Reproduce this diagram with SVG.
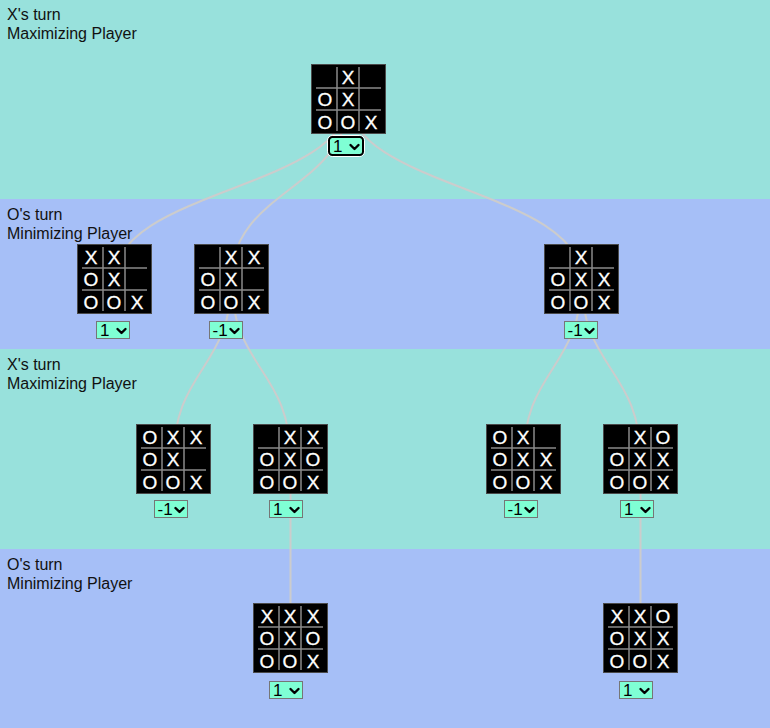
<svg xmlns="http://www.w3.org/2000/svg" xmlns:xlink="http://www.w3.org/1999/xlink" width="770" height="728" viewBox="0 0 770 728">
<style>
.bandA{fill:#98e1dc}
.bandB{fill:#a6bff7}
.lbl{font-family:"Liberation Sans",Arial,sans-serif;font-size:16px;fill:#111}
.board{fill:#000;stroke:#4a4a4a;stroke-width:1}
.grid{stroke:#8a8a8a;stroke-width:1.5}
.mark{font-family:"Liberation Sans",Arial,sans-serif;font-size:19px;fill:#fff;stroke:#fff;stroke-width:0.3;text-anchor:middle}
.sel{fill:#7fffd4;stroke:#767676;stroke-width:1}
.self{fill:#7fffd4;stroke:#000;stroke-width:2}
.ring{fill:none;stroke:#fff;stroke-width:1}
.val{font-family:"Liberation Sans",Arial,sans-serif;font-size:17px;fill:#000}
.chev{fill:none;stroke:#000;stroke-width:2.4;stroke-linecap:round;stroke-linejoin:round}
.link{fill:none;stroke:#cccccc;stroke-width:2}
</style>
<defs>
<g id="boardbase">
<rect class="board" x="0.5" y="0.5" width="74" height="69"/>
<line class="grid" x1="26" y1="3" x2="26" y2="67"/>
<line class="grid" x1="48" y1="3" x2="48" y2="67"/>
<line class="grid" x1="5" y1="24" x2="70" y2="24"/>
<line class="grid" x1="5" y1="46" x2="70" y2="46"/>
</g>
<path id="chevron" class="chev" d="M21.5,8 L25.5,12 L29.5,8"/>
</defs>

<g id="bands">
<rect class="bandA" x="0" y="0" width="770" height="199"/>
<rect class="bandB" x="0" y="199" width="770" height="150"/>
<rect class="bandA" x="0" y="349" width="770" height="200"/>
<rect class="bandB" x="0" y="549" width="770" height="179"/>
<text class="lbl" x="7" y="20">X's turn</text>
<text class="lbl" x="7" y="38.5">Maximizing Player</text>
<text class="lbl" x="7" y="220">O's turn</text>
<text class="lbl" x="7" y="238.5">Minimizing Player</text>
<text class="lbl" x="7" y="370">X's turn</text>
<text class="lbl" x="7" y="388.5">Maximizing Player</text>
<text class="lbl" x="7" y="570">O's turn</text>
<text class="lbl" x="7" y="588.5">Minimizing Player</text>
</g>

<g id="connectors">
<path class="link" d="M348.5,99 C348.5,189 114.5,189 114.5,279"/>
<path class="link" d="M348.5,99 C348.5,189 231.5,189 231.5,279"/>
<path class="link" d="M348.5,99 C348.5,189 581.5,189 581.5,279"/>
<path class="link" d="M231.5,279 C231.5,369 173.5,369 173.5,459"/>
<path class="link" d="M231.5,279 C231.5,369 290.5,369 290.5,459"/>
<path class="link" d="M581.5,279 C581.5,369 523.5,369 523.5,459"/>
<path class="link" d="M581.5,279 C581.5,369 640.5,369 640.5,459"/>
<path class="link" d="M290.5,459 L290.5,637"/>
<path class="link" d="M640.5,459 L640.5,637"/>
</g>

<g id="n0" transform="translate(311,64)">
<use xlink:href="#boardbase"/>
<text class="mark" x="37" y="19.5">X</text>
<text class="mark" x="14" y="42">O</text><text class="mark" x="37" y="42">X</text>
<text class="mark" x="14" y="64.5">O</text><text class="mark" x="37" y="64.5">O</text><text class="mark" x="60" y="64.5">X</text>
<g transform="translate(18,72)">
<rect class="ring" x="-1.5" y="-0.5" width="37" height="21" rx="5"/>
<rect class="self" x="0" y="1" width="34" height="18" rx="3.5"/>
<text class="val" x="4" y="16">1</text>
<use xlink:href="#chevron" y="1"/>
</g>
</g>

<g id="n1" transform="translate(77,244)">
<use xlink:href="#boardbase"/>
<text class="mark" x="14" y="19.5">X</text><text class="mark" x="37" y="19.5">X</text>
<text class="mark" x="14" y="42">O</text><text class="mark" x="37" y="42">X</text>
<text class="mark" x="14" y="64.5">O</text><text class="mark" x="37" y="64.5">O</text><text class="mark" x="60" y="64.5">X</text>
<g transform="translate(19,77)">
<rect class="sel" x="0.5" y="0.5" width="33" height="17"/>
<text class="val" x="4" y="15">1</text>
<use xlink:href="#chevron"/>
</g>
</g>

<g id="n2" transform="translate(194,244)">
<use xlink:href="#boardbase"/>
<text class="mark" x="37" y="19.5">X</text><text class="mark" x="60" y="19.5">X</text>
<text class="mark" x="14" y="42">O</text><text class="mark" x="37" y="42">X</text>
<text class="mark" x="14" y="64.5">O</text><text class="mark" x="37" y="64.5">O</text><text class="mark" x="60" y="64.5">X</text>
<g transform="translate(15,77)">
<rect class="sel" x="0.5" y="0.5" width="33" height="17"/>
<text class="val" x="3.5" y="15">-1</text>
<use xlink:href="#chevron"/>
</g>
</g>

<g id="n3" transform="translate(544,244)">
<use xlink:href="#boardbase"/>
<text class="mark" x="37" y="19.5">X</text>
<text class="mark" x="14" y="42">O</text><text class="mark" x="37" y="42">X</text><text class="mark" x="60" y="42">X</text>
<text class="mark" x="14" y="64.5">O</text><text class="mark" x="37" y="64.5">O</text><text class="mark" x="60" y="64.5">X</text>
<g transform="translate(20,77)">
<rect class="sel" x="0.5" y="0.5" width="33" height="17"/>
<text class="val" x="3.5" y="15">-1</text>
<use xlink:href="#chevron"/>
</g>
</g>

<g id="n4" transform="translate(136,424)">
<use xlink:href="#boardbase"/>
<text class="mark" x="14" y="19.5">O</text><text class="mark" x="37" y="19.5">X</text><text class="mark" x="60" y="19.5">X</text>
<text class="mark" x="14" y="42">O</text><text class="mark" x="37" y="42">X</text>
<text class="mark" x="14" y="64.5">O</text><text class="mark" x="37" y="64.5">O</text><text class="mark" x="60" y="64.5">X</text>
<g transform="translate(18,76)">
<rect class="sel" x="0.5" y="0.5" width="33" height="17"/>
<text class="val" x="3.5" y="15">-1</text>
<use xlink:href="#chevron"/>
</g>
</g>

<g id="n5" transform="translate(253,424)">
<use xlink:href="#boardbase"/>
<text class="mark" x="37" y="19.5">X</text><text class="mark" x="60" y="19.5">X</text>
<text class="mark" x="14" y="42">O</text><text class="mark" x="37" y="42">X</text><text class="mark" x="60" y="42">O</text>
<text class="mark" x="14" y="64.5">O</text><text class="mark" x="37" y="64.5">O</text><text class="mark" x="60" y="64.5">X</text>
<g transform="translate(16,76)">
<rect class="sel" x="0.5" y="0.5" width="33" height="17"/>
<text class="val" x="4" y="15">1</text>
<use xlink:href="#chevron"/>
</g>
</g>

<g id="n6" transform="translate(486,424)">
<use xlink:href="#boardbase"/>
<text class="mark" x="14" y="19.5">O</text><text class="mark" x="37" y="19.5">X</text>
<text class="mark" x="14" y="42">O</text><text class="mark" x="37" y="42">X</text><text class="mark" x="60" y="42">X</text>
<text class="mark" x="14" y="64.5">O</text><text class="mark" x="37" y="64.5">O</text><text class="mark" x="60" y="64.5">X</text>
<g transform="translate(18,76)">
<rect class="sel" x="0.5" y="0.5" width="33" height="17"/>
<text class="val" x="3.5" y="15">-1</text>
<use xlink:href="#chevron"/>
</g>
</g>

<g id="n7" transform="translate(603,424)">
<use xlink:href="#boardbase"/>
<text class="mark" x="37" y="19.5">X</text><text class="mark" x="60" y="19.5">O</text>
<text class="mark" x="14" y="42">O</text><text class="mark" x="37" y="42">X</text><text class="mark" x="60" y="42">X</text>
<text class="mark" x="14" y="64.5">O</text><text class="mark" x="37" y="64.5">O</text><text class="mark" x="60" y="64.5">X</text>
<g transform="translate(17,76)">
<rect class="sel" x="0.5" y="0.5" width="33" height="17"/>
<text class="val" x="4" y="15">1</text>
<use xlink:href="#chevron"/>
</g>
</g>

<g id="n8" transform="translate(253,603)">
<use xlink:href="#boardbase"/>
<text class="mark" x="14" y="19.5">X</text><text class="mark" x="37" y="19.5">X</text><text class="mark" x="60" y="19.5">X</text>
<text class="mark" x="14" y="42">O</text><text class="mark" x="37" y="42">X</text><text class="mark" x="60" y="42">O</text>
<text class="mark" x="14" y="64.5">O</text><text class="mark" x="37" y="64.5">O</text><text class="mark" x="60" y="64.5">X</text>
<g transform="translate(16,78)">
<rect class="sel" x="0.5" y="0.5" width="33" height="17"/>
<text class="val" x="4" y="15">1</text>
<use xlink:href="#chevron"/>
</g>
</g>

<g id="n9" transform="translate(603,603)">
<use xlink:href="#boardbase"/>
<text class="mark" x="14" y="19.5">X</text><text class="mark" x="37" y="19.5">X</text><text class="mark" x="60" y="19.5">O</text>
<text class="mark" x="14" y="42">O</text><text class="mark" x="37" y="42">X</text><text class="mark" x="60" y="42">X</text>
<text class="mark" x="14" y="64.5">O</text><text class="mark" x="37" y="64.5">O</text><text class="mark" x="60" y="64.5">X</text>
<g transform="translate(16,78)">
<rect class="sel" x="0.5" y="0.5" width="33" height="17"/>
<text class="val" x="4" y="15">1</text>
<use xlink:href="#chevron"/>
</g>
</g>
</svg>
